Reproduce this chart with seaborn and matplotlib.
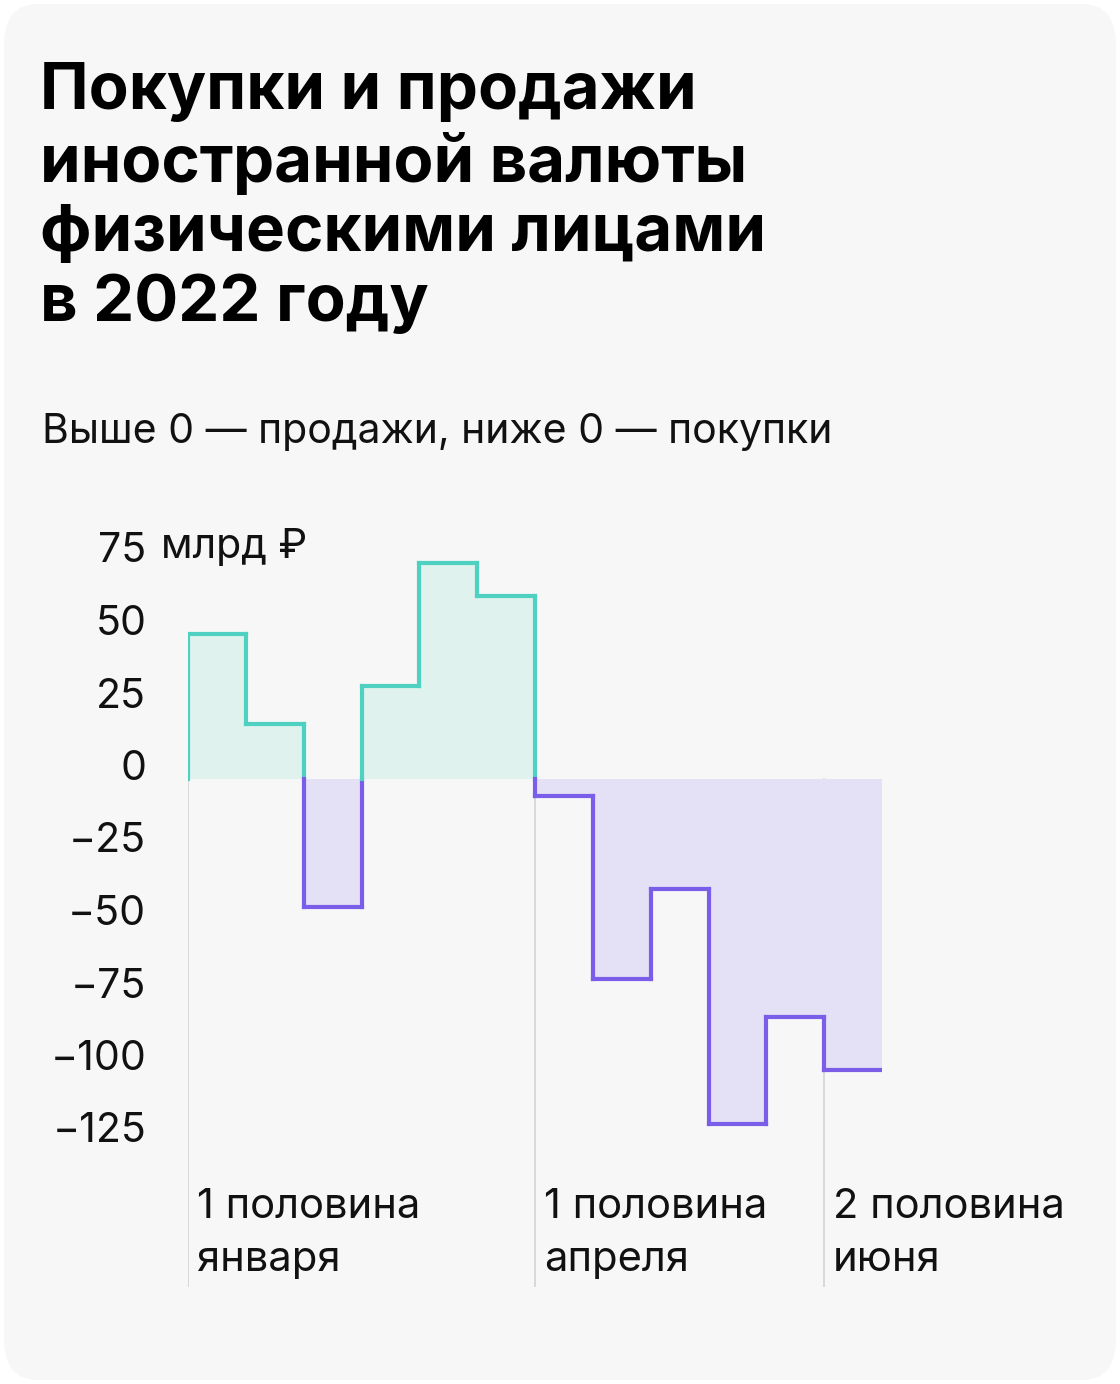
import numpy as np
import matplotlib
matplotlib.use("Agg")
import matplotlib.pyplot as plt
import matplotlib.transforms as mtrans
from matplotlib.patches import FancyBboxPatch
import seaborn as sns

values = [50, 19, -44, 32, 74.5, 63, -6, -69, -38, -119, -82, -100.5]
ytick_vals = [75, 50, 25, 0, -25, -50, -75, -100, -125]
ytick_labels = ["75", "50", "25", "0", "−25", "−50", "−75", "−100", "−125"]
period_labels = {0: "1 половина\nянваря", 6: "1 половина\nапреля", 11: "2 половина\nиюня"}
title = "Покупки и продажи\nиностранной валюты\nфизическими лицами\nв 2022 году"
subtitle = "Выше 0 — продажи, ниже 0 — покупки"

TEAL, PURPLE = "#4fd1c1", "#7a5de8"
TEAL_F, PURPLE_F = "#dff2ee", "#e4e0f6"

sns.set_theme(style="white", font="Inter")
W, H = 1120, 1384
fig = plt.figure(figsize=(W / 100, H / 100), dpi=100)
fig.patch.set_facecolor("white")
fig.patches.append(FancyBboxPatch((4 / W, 4 / H), 1 - 8 / W, 1 - 8 / H,
                                  boxstyle="round,pad=0,rounding_size=0.03",
                                  transform=fig.transFigure, facecolor="#f7f7f7",
                                  edgecolor="none", zorder=-10))

fig.text(40 / W, 1 - 62 / H, title, fontsize=47, fontweight="bold", va="top",
         linespacing=1.2, color="black")
fig.text(42 / W, 1 - 443 / H, subtitle, fontsize=29.5, va="baseline", color="#111")

ppu = 2.9
ymax, ymin = 80, -175
top_px = 779 - ymax * ppu
bot_px = 779 - ymin * ppu
x0_px, x1_px = 188, 882
ax = fig.add_axes([x0_px / W, 1 - bot_px / H, (x1_px - x0_px) / W, (bot_px - top_px) / H])
ax.set_facecolor("none")
ax.set_xlim(0, 12)
ax.set_ylim(ymin, ymax)
for s in ax.spines.values():
    s.set_visible(False)
ax.set_xticks([])
ax.set_yticks(ytick_vals)
ax.set_yticklabels(ytick_labels, fontsize=29.5, color="#111")
ax.tick_params(axis="y", length=0, pad=30)
off = mtrans.ScaledTranslation(0, 14 / 100, fig.dpi_scale_trans)
for lab in ax.get_yticklabels():
    lab.set_transform(lab.get_transform() + off)
ax.text(-27 / ((x1_px - x0_px) / 12), 75, "млрд ₽", fontsize=29.5, color="#111",
        ha="left", va="center", transform=ax.transData + off, clip_on=False)

v = np.array(values)
edges = np.arange(len(v) + 1)
vv = np.append(v, v[-1])
ax.fill_between(edges, 0, np.where(vv > 0, vv, 0), step="post", color=TEAL_F, lw=0, zorder=1)
ax.fill_between(edges, 0, np.where(vv < 0, vv, 0), step="post", color=PURPLE_F, lw=0, zorder=1)

for gx in period_labels:
    ax.plot([gx, gx], [0, ymin], color="#d6d6d6", lw=1.3, zorder=0.5)
    ax.text(gx, -141, period_labels[gx], fontsize=30, color="#111", ha="left", va="top",
            linespacing=1.5, transform=ax.transData + mtrans.ScaledTranslation(9 / 100, 0, fig.dpi_scale_trans))

pts = [(0, 0), (0, v[0])]
for i in range(len(v)):
    pts.append((i + 1, v[i]))
    if i + 1 < len(v):
        pts.append((i + 1, v[i + 1]))
segs = []
for (xa, ya), (xb, yb) in zip(pts[:-1], pts[1:]):
    if ya * yb < 0:
        segs.append(((xa, ya), (xb, 0)))
        segs.append(((xa, 0), (xb, yb)))
    else:
        segs.append(((xa, ya), (xb, yb)))
for (xa, ya), (xb, yb) in segs:
    col = TEAL if (ya + yb) > 0 else PURPLE
    ax.plot([xa, xb], [ya, yb], color=col, lw=3, solid_capstyle="projecting", zorder=3)

fig.savefig("out.png", dpi=100)
